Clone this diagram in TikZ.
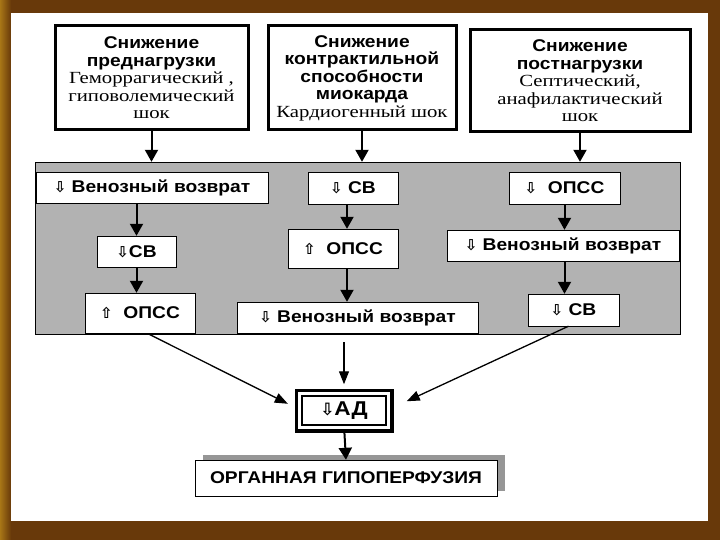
\documentclass[tikz,border=0pt]{standalone}
\usepackage{fontspec}
\setmainfont{Liberation Serif}[FakeStretch=1.22]
\setsansfont{Liberation Sans}[FakeStretch=1.13]
\newfontfamily\arrfont{DejaVu Sans}
\usetikzlibrary{arrows.meta, positioning, shadows}

\definecolor{framebrown}{RGB}{104,57,10}
\definecolor{framegold}{RGB}{168,118,22}
\definecolor{panelgray}{RGB}{178,178,178}
\definecolor{shadowgray}{RGB}{150,150,150}

\newcommand{\hd}{\sffamily\bfseries}
\newcommand{\txt}{\rmfamily\mdseries}
\newcommand{\arrdn}{{\arrfont\fontsize{15}{15}\selectfont ⇩}}
\newcommand{\arrup}{{\arrfont\fontsize{15}{15}\selectfont ⇧}}

\begin{document}
\begin{tikzpicture}[x=1pt, y=-1pt,
    causebox/.style={draw, line width=3pt, fill=white, align=center, inner sep=0pt,
                     font=\fontsize{17}{17.5}\selectfont},
    stepbox/.style={draw, fill=white, thin, inner sep=0pt,
                    font=\sffamily\bfseries\fontsize{17}{18}\selectfont},
    arr/.style={line width=2pt, -{Triangle[length=12pt, width=13pt]}},
    thinarr/.style={line width=1.3pt, -{Triangle[length=13pt, width=10pt]}}]
    \useasboundingbox (0,0) rectangle (720,540);
    % frame of the slide
    \fill[framebrown] (0,0) rectangle (720,540);
    \shade[left color=framegold, right color=framebrown] (0,0) rectangle (11,540);
    \fill[white] (11,13) rectangle (708,521);

    % causes
    \node[causebox, minimum width=193pt, minimum height=104pt] (pre) at (151.5,78)
        {\hd Снижение\\ \hd преднагрузки\\ \txt Геморрагический ,\\ \txt гиповолемический\\ \txt шок};
    \node[causebox, minimum width=188pt, minimum height=104pt] (contr) at (362,78)
        {\hd Снижение\\ \hd контрактильной\\ \hd способности\\ \hd миокарда\\ \txt Кардиогенный шок};
    \node[causebox, minimum width=220pt, minimum height=102pt] (post) at (580,81)
        {\hd Снижение\\ \hd постнагрузки\\ \txt Септический,\\ \txt анафилактический\\ \txt шок};

    % mechanisms
    \node[draw, fill=panelgray, minimum width=645pt, minimum height=172pt, inner sep=0pt] (panel) at (357.5,248) {};
    \draw[arr] (pre.south) -- (pre.south |- panel.north);
    \draw[arr] (contr.south) -- (contr.south |- panel.north);
    \draw[arr] (post.south) -- (post.south |- panel.north);

    \node[stepbox, minimum width=232pt, minimum height=31pt] (vr1) at (152,187.5) {\arrdn\ Венозный возврат};
    \node[stepbox, minimum width=79pt, minimum height=31pt] (sv1) at (136.5,251.5) {\arrdn СВ};
    \node[stepbox, minimum width=110pt, minimum height=40pt] (op1) at (140,313) {\arrup\ \ ОПСС};

    \node[stepbox, minimum width=90pt, minimum height=32pt] (sv2) at (353,188) {\arrdn\ СВ};
    \node[stepbox, minimum width=110pt, minimum height=39pt] (op2) at (343,248.5) {\arrup\ \ ОПСС};
    \node[stepbox, minimum width=241pt, minimum height=31pt] (vr2) at (357.5,317.5) {\arrdn\ Венозный возврат};

    \node[stepbox, minimum width=111pt, minimum height=32pt] (op3) at (564.5,188) {\arrdn\ \ ОПСС};
    \node[stepbox, minimum width=232pt, minimum height=31pt] (vr3) at (563,245.5) {\arrdn\ Венозный возврат};
    \node[stepbox, minimum width=91pt, minimum height=32pt] (sv3) at (573.5,310) {\arrdn\ СВ};

    \draw[arr] (sv1.north |- vr1.south) -- (sv1.north);
    \draw[arr] (sv1.south) -- (sv1.south |- op1.north);
    \draw[arr] ([xshift=-6pt]sv2.south) -- ([xshift=-6pt]sv2.south |- op2.north);
    \draw[arr] ([xshift=4pt]op2.south) -- ([xshift=4pt]op2.south |- vr2.north);
    \draw[arr] (op3.south) -- (op3.south |- vr3.north);
    \draw[arr] (op3.south |- vr3.south) -- (op3.south |- sv3.north);

    % result
    \node[draw, line width=1.5pt, fill=white, minimum width=84pt, minimum height=29pt, inner sep=0pt,
          font=\sffamily\bfseries\fontsize{20}{20}\selectfont] (ad) at (344,410.5) {{\arrfont\fontsize{17}{17}\selectfont ⇩}АД};
    \draw[line width=3.5pt] ([shift={(-5pt,-5pt)}]ad.south west) rectangle ([shift={(5pt,5pt)}]ad.north east);

    \node[stepbox, minimum width=302pt, minimum height=36pt,
          drop shadow={shadow xshift=8pt, shadow yshift=5pt, fill=shadowgray, opacity=1}] (hypo) at (346,478)
        {ОРГАННАЯ ГИПОПЕРФУЗИЯ};

    \draw[thinarr, shorten <=1pt, shorten >=15pt] ([xshift=7pt]op1.south) -- (ad.west);
    \draw[thinarr, shorten <=9pt, shorten >=11pt] (vr2.south -| ad.north) -- (ad.north);
    \draw[thinarr, shorten >=22pt] ([xshift=-5pt]sv3.south) -- (ad.east);
    \draw[arr, shorten <=5pt] (ad.south) -- (hypo.north);
\end{tikzpicture}
\end{document}
